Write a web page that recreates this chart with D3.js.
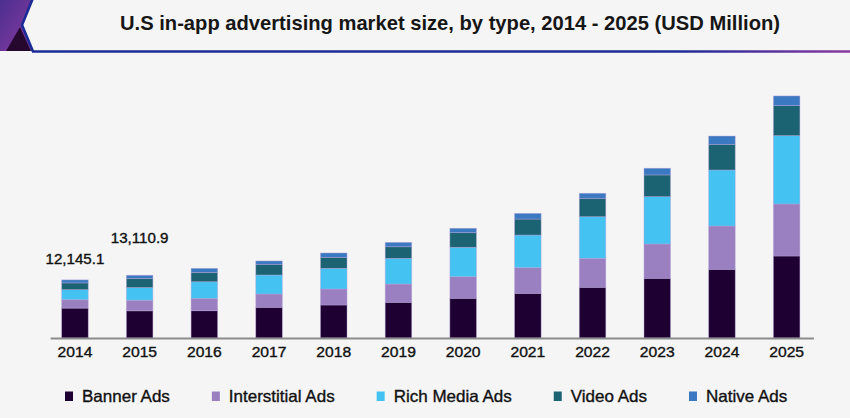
<!DOCTYPE html>
<html>
<head>
<meta charset="utf-8">
<script src="https://cdn.jsdelivr.net/npm/d3@7/dist/d3.min.js"></script>
<style>
  html, body { margin: 0; padding: 0; background: #f5f5f5; }
  svg { display: block; }
  text { font-family: "Liberation Sans", Arial, sans-serif; }
</style>
</head>
<body>
<svg id="chart" width="850" height="418"></svg>
<script>
// ---------- data ----------
const years = ["2014","2015","2016","2017","2018","2019","2020","2021","2022","2023","2024","2025"];
const seriesNames = ["Banner Ads","Interstitial Ads","Rich Media Ads","Video Ads","Native Ads"];
const bannerAds       = [6250, 5680, 5700, 6420, 6900, 7460, 8300, 9340, 10600, 12480, 14360, 17140];
const interstitialAds = [1750, 2225, 2590, 2780, 3340, 3820, 4510, 5350, 6060, 7170, 9050, 10870];
const richMediaAds    = [2100, 2640, 3470, 3970, 4330, 5370, 6150, 6830, 8690, 9890, 11700, 14280];
const videoAds        = [1410, 1875, 1960, 2240, 2300, 2420, 3050, 3340, 3850, 4540, 5370, 6270];
const nativeAds       = [635.1, 690.9, 840, 690, 900, 920, 920, 1190, 1050, 1400, 1730, 2030];
const labelYears  = ["2014", "2015"];
const labelTexts  = ["12,145.1", "13,110.9"];
const title = "U.S in-app advertising market size, by type, 2014 - 2025 (USD Million)";
const colors = ["#1e0032", "#9a80c0", "#44c3f3", "#1b6373", "#3b79c2"];

// ---------- build ----------
const svg = d3.select("#chart");
const W = 850, H = 418;
svg.append("rect").attr("width", W).attr("height", H).attr("fill", "#f5f5f5");

const defs = svg.append("defs");
const pg = defs.append("linearGradient").attr("id", "purpleGrad")
  .attr("x1", "0").attr("y1", "0").attr("x2", "1").attr("y2", "1");
pg.append("stop").attr("offset", "0%").attr("stop-color", "#4b2f8f");
pg.append("stop").attr("offset", "100%").attr("stop-color", "#8a3aa2");
const lg = defs.append("linearGradient").attr("id", "lineGrad")
  .attr("gradientUnits", "userSpaceOnUse").attr("x1", 0).attr("y1", 0).attr("x2", 850).attr("y2", 0);
lg.append("stop").attr("offset", "0%").attr("stop-color", "#1b2b95");
lg.append("stop").attr("offset", "80%").attr("stop-color", "#1f2c97");
lg.append("stop").attr("offset", "100%").attr("stop-color", "#8a3aa2");

// header decoration
svg.append("polygon").attr("points", "0,0 33,0 22,25 33,51 0,51").attr("fill", "url(#purpleGrad)");
svg.append("polygon").attr("points", "6,51 20,27 31,51").attr("fill", "#26082f");
svg.append("polyline").attr("points", "33,-2 22,25 33,51.5 850,51.5")
  .attr("fill", "none").attr("stroke", "url(#lineGrad)").attr("stroke-width", 2.6);

// helpers
function stretch(sel, k) {
  sel.each(function() {
    const w = this.getComputedTextLength();
    d3.select(this).attr("textLength", w * k).attr("lengthAdjust", "spacingAndGlyphs");
  });
}
function thicken(sel, c) {
  sel.attr("stroke", c).attr("stroke-width", 0.35).attr("paint-order", "stroke");
}

// title
svg.append("text").attr("x", 450).attr("y", 29.5).attr("text-anchor", "middle")
  .attr("font-size", 20.5).attr("font-weight", "bold").attr("fill", "#161616")
  .attr("textLength", 660).attr("lengthAdjust", "spacingAndGlyphs")
  .text(title);

// scales
const x = d3.scaleBand().domain(years).range([42.6, 819]).paddingInner(0.59).paddingOuter(0.295);
const y = d3.scaleLinear().domain([0, 58000]).range([338, 338 - 58000 / 209]);

const rows = years.map((yr, i) => ({
  year: yr,
  "Banner Ads": bannerAds[i],
  "Interstitial Ads": interstitialAds[i],
  "Rich Media Ads": richMediaAds[i],
  "Video Ads": videoAds[i],
  "Native Ads": nativeAds[i]
}));
const stacked = d3.stack().keys(seriesNames)(rows);
const color = d3.scaleOrdinal().domain(seriesNames).range(colors);

const g = svg.append("g");
g.selectAll("g.series").data(stacked).join("g").attr("class", "series")
  .attr("fill", d => color(d.key))
  .selectAll("rect").data(d => d).join("rect")
  .attr("x", d => x(d.data.year))
  .attr("y", d => y(d[1]))
  .attr("width", x.bandwidth())
  .attr("height", d => y(d[0]) - y(d[1]))
  .attr("stroke", "#b7a3d8").attr("stroke-width", 0.7).attr("stroke-opacity", 0.6);

// axis
const xAxis = d3.axisBottom(x).tickSize(0).tickPadding(9);
const ax = svg.append("g").attr("transform", "translate(0,338)").call(xAxis);
ax.select(".domain").remove();
ax.selectAll("text").attr("font-size", 14.5).attr("fill", "#111")
  .attr("font-family", "\"Liberation Sans\", Arial, sans-serif").call(stretch, 1.08).call(thicken, "#111");
svg.append("line").attr("x1", x(years[0]) - 11).attr("x2", x(years[years.length - 1]) + x.bandwidth() + 14)
  .attr("y1", 338.5).attr("y2", 338.5).attr("stroke", "#8c8c8c").attr("stroke-width", 2);

// value labels
const totals = years.map((yr, i) => bannerAds[i] + interstitialAds[i] + richMediaAds[i] + videoAds[i] + nativeAds[i]);
const labelGaps = [16, 32];
svg.selectAll("text.vlabel").data(labelYears).join("text").attr("class", "vlabel")
  .attr("x", d => x(d) + x.bandwidth() / 2)
  .attr("y", (d, i) => y(totals[years.indexOf(d)]) - labelGaps[i])
  .attr("text-anchor", "middle").attr("font-size", 14).attr("fill", "#111")
  .text((d, i) => labelTexts[i]).call(stretch, 1.08).call(thicken, "#111");

// legend
const legend = svg.append("g");
let lx = 65;
seriesNames.forEach((name, i) => {
  legend.append("rect").attr("x", lx).attr("y", 391.5).attr("width", 8).attr("height", 9.5)
    .attr("fill", colors[i]);
  const t = legend.append("text").attr("x", lx + 17).attr("y", 402)
    .attr("font-size", 16.5).attr("fill", "#111").text(name);
  stretch(t, 1.03);
  thicken(t, "#111");
  const w = +t.attr("textLength");
  lx = lx + 17 + w + 42;
});
</script>
</body>
</html>
